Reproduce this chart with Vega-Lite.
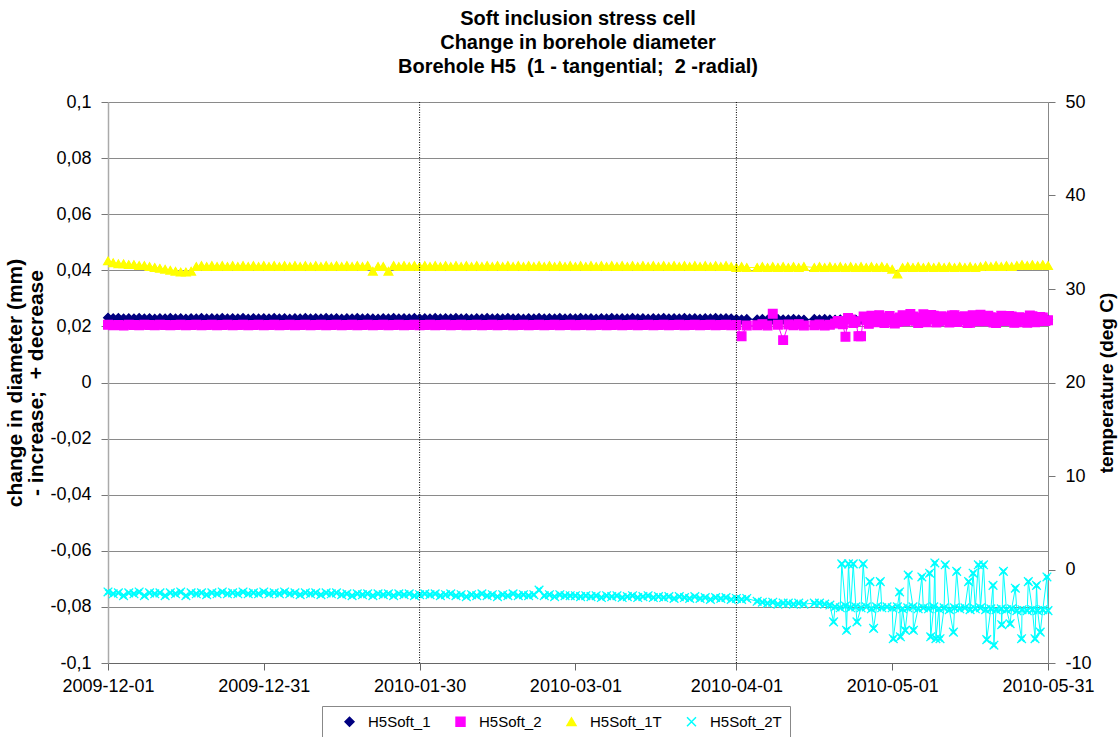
{
"$schema": "https://vega.github.io/schema/vega-lite/v6.json",
"width": 940, "height": 561,
"autosize": {"type": "none"},
"padding": {"left": 108, "top": 102, "right": 70, "bottom": 74},
"background": "white",
"config": {
 "font": "Liberation Sans",
 "view": {"stroke": null},
 "axis": {"labelFont": "Liberation Sans", "labelFontSize": 18, "labelColor": "#000", "titleFont": "Liberation Sans", "titleFontSize": 17, "titleFontWeight": "bold", "titleColor": "#000", "tickColor": "#777", "domainColor": "#888", "tickSize": 7, "grid": false}
},
"title": {"text": ["Soft inclusion stress cell", "Change in borehole diameter", "Borehole H5\u00a0 (1 - tangential;\u00a0 2 -radial)"], "fontSize": 20, "fontWeight": "bold", "font": "Liberation Sans", "anchor": "middle", "frame": "group", "lineHeight": 24, "baseline": "bottom", "offset": -4, "color": "#000"},
"datasets": {
"wide": [
{"d":"2009-12-01","H5Soft_1":0.0231,"H5Soft_2":0.0206,"H5Soft_1T":33.0,"H5Soft_2T":-2.4},
{"d":"2009-12-02","H5Soft_1":0.0229,"H5Soft_2":0.0204,"H5Soft_1T":32.8,"H5Soft_2T":-2.6},
{"d":"2009-12-03","H5Soft_1":0.0230,"H5Soft_2":0.0205,"H5Soft_1T":32.7,"H5Soft_2T":-2.5},
{"d":"2009-12-04","H5Soft_1":0.0228,"H5Soft_2":0.0203,"H5Soft_1T":32.7,"H5Soft_2T":-2.8},
{"d":"2009-12-05","H5Soft_1":0.0229,"H5Soft_2":0.0206,"H5Soft_1T":32.6,"H5Soft_2T":-2.5},
{"d":"2009-12-06","H5Soft_1":0.0228,"H5Soft_2":0.0205,"H5Soft_1T":32.6,"H5Soft_2T":-2.6},
{"d":"2009-12-07","H5Soft_1":0.0230,"H5Soft_2":0.0204,"H5Soft_1T":32.5,"H5Soft_2T":-2.4},
{"d":"2009-12-08","H5Soft_1":0.0228,"H5Soft_2":0.0206,"H5Soft_1T":32.5,"H5Soft_2T":-2.8},
{"d":"2009-12-09","H5Soft_1":0.0229,"H5Soft_2":0.0205,"H5Soft_1T":32.4,"H5Soft_2T":-2.5},
{"d":"2009-12-10","H5Soft_1":0.0227,"H5Soft_2":0.0204,"H5Soft_1T":32.3,"H5Soft_2T":-2.6},
{"d":"2009-12-11","H5Soft_1":0.0229,"H5Soft_2":0.0206,"H5Soft_1T":32.2,"H5Soft_2T":-2.5},
{"d":"2009-12-12","H5Soft_1":0.0228,"H5Soft_2":0.0205,"H5Soft_1T":32.1,"H5Soft_2T":-2.8},
{"d":"2009-12-13","H5Soft_1":0.0230,"H5Soft_2":0.0204,"H5Soft_1T":32.0,"H5Soft_2T":-2.5},
{"d":"2009-12-14","H5Soft_1":0.0228,"H5Soft_2":0.0205,"H5Soft_1T":31.9,"H5Soft_2T":-2.6},
{"d":"2009-12-15","H5Soft_1":0.0229,"H5Soft_2":0.0206,"H5Soft_1T":31.8,"H5Soft_2T":-2.4},
{"d":"2009-12-16","H5Soft_1":0.0227,"H5Soft_2":0.0204,"H5Soft_1T":31.8,"H5Soft_2T":-2.8},
{"d":"2009-12-17","H5Soft_1":0.0229,"H5Soft_2":0.0205,"H5Soft_1T":31.9,"H5Soft_2T":-2.5},
{"d":"2009-12-18","H5Soft_1":0.0228,"H5Soft_2":0.0206,"H5Soft_1T":32.4,"H5Soft_2T":-2.6},
{"d":"2009-12-19","H5Soft_1":0.0230,"H5Soft_2":0.0204,"H5Soft_1T":32.5,"H5Soft_2T":-2.5},
{"d":"2009-12-20","H5Soft_1":0.0228,"H5Soft_2":0.0205,"H5Soft_1T":32.4,"H5Soft_2T":-2.7},
{"d":"2009-12-21","H5Soft_1":0.0229,"H5Soft_2":0.0206,"H5Soft_1T":32.5,"H5Soft_2T":-2.5},
{"d":"2009-12-22","H5Soft_1":0.0228,"H5Soft_2":0.0204,"H5Soft_1T":32.4,"H5Soft_2T":-2.6},
{"d":"2009-12-23","H5Soft_1":0.0230,"H5Soft_2":0.0205,"H5Soft_1T":32.5,"H5Soft_2T":-2.4},
{"d":"2009-12-24","H5Soft_1":0.0228,"H5Soft_2":0.0206,"H5Soft_1T":32.4,"H5Soft_2T":-2.6},
{"d":"2009-12-25","H5Soft_1":0.0229,"H5Soft_2":0.0204,"H5Soft_1T":32.5,"H5Soft_2T":-2.5},
{"d":"2009-12-26","H5Soft_1":0.0228,"H5Soft_2":0.0205,"H5Soft_1T":32.4,"H5Soft_2T":-2.6},
{"d":"2009-12-27","H5Soft_1":0.0230,"H5Soft_2":0.0206,"H5Soft_1T":32.5,"H5Soft_2T":-2.4},
{"d":"2009-12-28","H5Soft_1":0.0227,"H5Soft_2":0.0204,"H5Soft_1T":32.4,"H5Soft_2T":-2.6},
{"d":"2009-12-29","H5Soft_1":0.0229,"H5Soft_2":0.0205,"H5Soft_1T":32.5,"H5Soft_2T":-2.5},
{"d":"2009-12-30","H5Soft_1":0.0228,"H5Soft_2":0.0206,"H5Soft_1T":32.4,"H5Soft_2T":-2.6},
{"d":"2009-12-31","H5Soft_1":0.0229,"H5Soft_2":0.0204,"H5Soft_1T":32.5,"H5Soft_2T":-2.4},
{"d":"2010-01-01","H5Soft_1":0.0228,"H5Soft_2":0.0205,"H5Soft_1T":32.4,"H5Soft_2T":-2.6},
{"d":"2010-01-02","H5Soft_1":0.0230,"H5Soft_2":0.0206,"H5Soft_1T":32.5,"H5Soft_2T":-2.5},
{"d":"2010-01-03","H5Soft_1":0.0228,"H5Soft_2":0.0204,"H5Soft_1T":32.4,"H5Soft_2T":-2.6},
{"d":"2010-01-04","H5Soft_1":0.0229,"H5Soft_2":0.0205,"H5Soft_1T":32.5,"H5Soft_2T":-2.4},
{"d":"2010-01-05","H5Soft_1":0.0227,"H5Soft_2":0.0206,"H5Soft_1T":32.4,"H5Soft_2T":-2.6},
{"d":"2010-01-06","H5Soft_1":0.0229,"H5Soft_2":0.0204,"H5Soft_1T":32.5,"H5Soft_2T":-2.5},
{"d":"2010-01-07","H5Soft_1":0.0228,"H5Soft_2":0.0205,"H5Soft_1T":32.4,"H5Soft_2T":-2.7},
{"d":"2010-01-08","H5Soft_1":0.0230,"H5Soft_2":0.0206,"H5Soft_1T":32.5,"H5Soft_2T":-2.5},
{"d":"2010-01-09","H5Soft_1":0.0228,"H5Soft_2":0.0204,"H5Soft_1T":32.4,"H5Soft_2T":-2.6},
{"d":"2010-01-10","H5Soft_1":0.0229,"H5Soft_2":0.0205,"H5Soft_1T":32.5,"H5Soft_2T":-2.5},
{"d":"2010-01-11","H5Soft_1":0.0228,"H5Soft_2":0.0206,"H5Soft_1T":32.4,"H5Soft_2T":-2.7},
{"d":"2010-01-12","H5Soft_1":0.0230,"H5Soft_2":0.0204,"H5Soft_1T":32.5,"H5Soft_2T":-2.5},
{"d":"2010-01-13","H5Soft_1":0.0228,"H5Soft_2":0.0205,"H5Soft_1T":32.4,"H5Soft_2T":-2.6},
{"d":"2010-01-14","H5Soft_1":0.0229,"H5Soft_2":0.0206,"H5Soft_1T":32.5,"H5Soft_2T":-2.5},
{"d":"2010-01-15","H5Soft_1":0.0227,"H5Soft_2":0.0204,"H5Soft_1T":32.4,"H5Soft_2T":-2.7},
{"d":"2010-01-16","H5Soft_1":0.0229,"H5Soft_2":0.0205,"H5Soft_1T":32.5,"H5Soft_2T":-2.6},
{"d":"2010-01-17","H5Soft_1":0.0228,"H5Soft_2":0.0206,"H5Soft_1T":32.4,"H5Soft_2T":-2.8},
{"d":"2010-01-18","H5Soft_1":0.0230,"H5Soft_2":0.0204,"H5Soft_1T":32.5,"H5Soft_2T":-2.6},
{"d":"2010-01-19","H5Soft_1":0.0228,"H5Soft_2":0.0205,"H5Soft_1T":32.4,"H5Soft_2T":-2.7},
{"d":"2010-01-20","H5Soft_1":0.0229,"H5Soft_2":0.0206,"H5Soft_1T":32.5,"H5Soft_2T":-2.6},
{"d":"2010-01-21","H5Soft_1":0.0228,"H5Soft_2":0.0204,"H5Soft_1T":31.9,"H5Soft_2T":-2.8},
{"d":"2010-01-22","H5Soft_1":0.0227,"H5Soft_2":0.0205,"H5Soft_1T":32.4,"H5Soft_2T":-2.6},
{"d":"2010-01-23","H5Soft_1":0.0229,"H5Soft_2":0.0206,"H5Soft_1T":32.4,"H5Soft_2T":-2.7},
{"d":"2010-01-24","H5Soft_1":0.0228,"H5Soft_2":0.0204,"H5Soft_1T":31.9,"H5Soft_2T":-2.6},
{"d":"2010-01-25","H5Soft_1":0.0230,"H5Soft_2":0.0205,"H5Soft_1T":32.5,"H5Soft_2T":-2.8},
{"d":"2010-01-26","H5Soft_1":0.0228,"H5Soft_2":0.0206,"H5Soft_1T":32.4,"H5Soft_2T":-2.6},
{"d":"2010-01-27","H5Soft_1":0.0229,"H5Soft_2":0.0204,"H5Soft_1T":32.5,"H5Soft_2T":-2.7},
{"d":"2010-01-28","H5Soft_1":0.0228,"H5Soft_2":0.0205,"H5Soft_1T":32.4,"H5Soft_2T":-2.6},
{"d":"2010-01-29","H5Soft_1":0.0230,"H5Soft_2":0.0206,"H5Soft_1T":32.5,"H5Soft_2T":-2.8},
{"d":"2010-01-30","H5Soft_1":0.0228,"H5Soft_2":0.0204,"H5Soft_1T":32.4,"H5Soft_2T":-2.7},
{"d":"2010-01-31","H5Soft_1":0.0229,"H5Soft_2":0.0205,"H5Soft_1T":32.5,"H5Soft_2T":-2.6},
{"d":"2010-02-01","H5Soft_1":0.0228,"H5Soft_2":0.0206,"H5Soft_1T":32.4,"H5Soft_2T":-2.7},
{"d":"2010-02-02","H5Soft_1":0.0230,"H5Soft_2":0.0204,"H5Soft_1T":32.5,"H5Soft_2T":-2.6},
{"d":"2010-02-03","H5Soft_1":0.0228,"H5Soft_2":0.0205,"H5Soft_1T":32.4,"H5Soft_2T":-2.8},
{"d":"2010-02-04","H5Soft_1":0.0229,"H5Soft_2":0.0206,"H5Soft_1T":32.5,"H5Soft_2T":-2.7},
{"d":"2010-02-05","H5Soft_1":0.0228,"H5Soft_2":0.0204,"H5Soft_1T":32.4,"H5Soft_2T":-2.6},
{"d":"2010-02-06","H5Soft_1":0.0230,"H5Soft_2":0.0205,"H5Soft_1T":32.5,"H5Soft_2T":-2.8},
{"d":"2010-02-07","H5Soft_1":0.0228,"H5Soft_2":0.0206,"H5Soft_1T":32.4,"H5Soft_2T":-2.7},
{"d":"2010-02-08","H5Soft_1":0.0229,"H5Soft_2":0.0204,"H5Soft_1T":32.5,"H5Soft_2T":-2.9},
{"d":"2010-02-09","H5Soft_1":0.0227,"H5Soft_2":0.0205,"H5Soft_1T":32.4,"H5Soft_2T":-2.7},
{"d":"2010-02-10","H5Soft_1":0.0229,"H5Soft_2":0.0206,"H5Soft_1T":32.5,"H5Soft_2T":-2.8},
{"d":"2010-02-11","H5Soft_1":0.0228,"H5Soft_2":0.0204,"H5Soft_1T":32.4,"H5Soft_2T":-2.6},
{"d":"2010-02-12","H5Soft_1":0.0230,"H5Soft_2":0.0205,"H5Soft_1T":32.5,"H5Soft_2T":-2.8},
{"d":"2010-02-13","H5Soft_1":0.0228,"H5Soft_2":0.0206,"H5Soft_1T":32.4,"H5Soft_2T":-2.7},
{"d":"2010-02-14","H5Soft_1":0.0229,"H5Soft_2":0.0204,"H5Soft_1T":32.5,"H5Soft_2T":-2.9},
{"d":"2010-02-15","H5Soft_1":0.0228,"H5Soft_2":0.0205,"H5Soft_1T":32.4,"H5Soft_2T":-2.7},
{"d":"2010-02-16","H5Soft_1":0.0230,"H5Soft_2":0.0206,"H5Soft_1T":32.5,"H5Soft_2T":-2.8},
{"d":"2010-02-17","H5Soft_1":0.0228,"H5Soft_2":0.0204,"H5Soft_1T":32.4,"H5Soft_2T":-2.6},
{"d":"2010-02-18","H5Soft_1":0.0229,"H5Soft_2":0.0205,"H5Soft_1T":32.5,"H5Soft_2T":-2.8},
{"d":"2010-02-19","H5Soft_1":0.0227,"H5Soft_2":0.0206,"H5Soft_1T":32.4,"H5Soft_2T":-2.7},
{"d":"2010-02-20","H5Soft_1":0.0229,"H5Soft_2":0.0204,"H5Soft_1T":32.5,"H5Soft_2T":-2.8},
{"d":"2010-02-21","H5Soft_1":0.0228,"H5Soft_2":0.0205,"H5Soft_1T":32.4,"H5Soft_2T":-2.7},
{"d":"2010-02-22","H5Soft_1":0.0230,"H5Soft_2":0.0206,"H5Soft_1T":32.5,"H5Soft_2T":-2.2},
{"d":"2010-02-23","H5Soft_1":0.0228,"H5Soft_2":0.0204,"H5Soft_1T":32.4,"H5Soft_2T":-2.8},
{"d":"2010-02-24","H5Soft_1":0.0229,"H5Soft_2":0.0205,"H5Soft_1T":32.5,"H5Soft_2T":-2.7},
{"d":"2010-02-25","H5Soft_1":0.0228,"H5Soft_2":0.0206,"H5Soft_1T":32.4,"H5Soft_2T":-2.9},
{"d":"2010-02-26","H5Soft_1":0.0230,"H5Soft_2":0.0204,"H5Soft_1T":32.5,"H5Soft_2T":-2.7},
{"d":"2010-02-27","H5Soft_1":0.0228,"H5Soft_2":0.0205,"H5Soft_1T":32.4,"H5Soft_2T":-2.8},
{"d":"2010-02-28","H5Soft_1":0.0229,"H5Soft_2":0.0206,"H5Soft_1T":32.5,"H5Soft_2T":-2.8},
{"d":"2010-03-01","H5Soft_1":0.0228,"H5Soft_2":0.0204,"H5Soft_1T":32.4,"H5Soft_2T":-2.8},
{"d":"2010-03-02","H5Soft_1":0.0230,"H5Soft_2":0.0205,"H5Soft_1T":32.5,"H5Soft_2T":-2.9},
{"d":"2010-03-03","H5Soft_1":0.0228,"H5Soft_2":0.0206,"H5Soft_1T":32.4,"H5Soft_2T":-2.8},
{"d":"2010-03-04","H5Soft_1":0.0229,"H5Soft_2":0.0204,"H5Soft_1T":32.5,"H5Soft_2T":-2.9},
{"d":"2010-03-05","H5Soft_1":0.0227,"H5Soft_2":0.0205,"H5Soft_1T":32.4,"H5Soft_2T":-2.8},
{"d":"2010-03-06","H5Soft_1":0.0229,"H5Soft_2":0.0206,"H5Soft_1T":32.5,"H5Soft_2T":-3.0},
{"d":"2010-03-07","H5Soft_1":0.0228,"H5Soft_2":0.0204,"H5Soft_1T":32.4,"H5Soft_2T":-2.8},
{"d":"2010-03-08","H5Soft_1":0.0230,"H5Soft_2":0.0205,"H5Soft_1T":32.5,"H5Soft_2T":-2.9},
{"d":"2010-03-09","H5Soft_1":0.0228,"H5Soft_2":0.0206,"H5Soft_1T":32.4,"H5Soft_2T":-2.8},
{"d":"2010-03-10","H5Soft_1":0.0229,"H5Soft_2":0.0204,"H5Soft_1T":32.5,"H5Soft_2T":-3.0},
{"d":"2010-03-11","H5Soft_1":0.0228,"H5Soft_2":0.0205,"H5Soft_1T":32.4,"H5Soft_2T":-2.9},
{"d":"2010-03-12","H5Soft_1":0.0230,"H5Soft_2":0.0206,"H5Soft_1T":32.5,"H5Soft_2T":-2.8},
{"d":"2010-03-13","H5Soft_1":0.0228,"H5Soft_2":0.0204,"H5Soft_1T":32.4,"H5Soft_2T":-3.0},
{"d":"2010-03-14","H5Soft_1":0.0229,"H5Soft_2":0.0205,"H5Soft_1T":32.5,"H5Soft_2T":-2.9},
{"d":"2010-03-15","H5Soft_1":0.0227,"H5Soft_2":0.0206,"H5Soft_1T":32.4,"H5Soft_2T":-2.8},
{"d":"2010-03-16","H5Soft_1":0.0229,"H5Soft_2":0.0204,"H5Soft_1T":32.5,"H5Soft_2T":-3.0},
{"d":"2010-03-17","H5Soft_1":0.0228,"H5Soft_2":0.0205,"H5Soft_1T":32.4,"H5Soft_2T":-2.9},
{"d":"2010-03-18","H5Soft_1":0.0230,"H5Soft_2":0.0206,"H5Soft_1T":32.5,"H5Soft_2T":-3.0},
{"d":"2010-03-19","H5Soft_1":0.0228,"H5Soft_2":0.0204,"H5Soft_1T":32.4,"H5Soft_2T":-2.9},
{"d":"2010-03-20","H5Soft_1":0.0229,"H5Soft_2":0.0205,"H5Soft_1T":32.5,"H5Soft_2T":-3.1},
{"d":"2010-03-21","H5Soft_1":0.0228,"H5Soft_2":0.0206,"H5Soft_1T":32.4,"H5Soft_2T":-2.9},
{"d":"2010-03-22","H5Soft_1":0.0230,"H5Soft_2":0.0204,"H5Soft_1T":32.5,"H5Soft_2T":-3.0},
{"d":"2010-03-23","H5Soft_1":0.0228,"H5Soft_2":0.0205,"H5Soft_1T":32.4,"H5Soft_2T":-3.1},
{"d":"2010-03-24","H5Soft_1":0.0229,"H5Soft_2":0.0206,"H5Soft_1T":32.5,"H5Soft_2T":-2.9},
{"d":"2010-03-25","H5Soft_1":0.0227,"H5Soft_2":0.0204,"H5Soft_1T":32.4,"H5Soft_2T":-3.1},
{"d":"2010-03-26","H5Soft_1":0.0229,"H5Soft_2":0.0205,"H5Soft_1T":32.5,"H5Soft_2T":-3.0},
{"d":"2010-03-27","H5Soft_1":0.0228,"H5Soft_2":0.0206,"H5Soft_1T":32.4,"H5Soft_2T":-3.2},
{"d":"2010-03-28","H5Soft_1":0.0230,"H5Soft_2":0.0204,"H5Soft_1T":32.5,"H5Soft_2T":-3.0},
{"d":"2010-03-29","H5Soft_1":0.0228,"H5Soft_2":0.0205,"H5Soft_1T":32.4,"H5Soft_2T":-3.1},
{"d":"2010-03-30","H5Soft_1":0.0229,"H5Soft_2":0.0206,"H5Soft_1T":32.5,"H5Soft_2T":-3.0},
{"d":"2010-03-31","H5Soft_1":0.0228,"H5Soft_2":0.0204,"H5Soft_1T":32.4,"H5Soft_2T":-3.2},
{"d":"2010-04-01","H5Soft_1":0.0226,"H5Soft_2":0.0205,"H5Soft_1T":32.3,"H5Soft_2T":-3.1},
{"d":"2010-04-02","H5Soft_1":0.0225,"H5Soft_2":0.0165,"H5Soft_1T":32.4,"H5Soft_2T":-3.2},
{"d":"2010-04-03","H5Soft_1":0.0226,"H5Soft_2":0.0203,"H5Soft_1T":32.3,"H5Soft_2T":-3.1},
{"d":"2010-04-05","H5Soft_1":0.0225,"H5Soft_2":0.0204,"H5Soft_1T":32.3,"H5Soft_2T":-3.4},
{"d":"2010-04-06","H5Soft_1":0.0226,"H5Soft_2":0.0208,"H5Soft_1T":32.4,"H5Soft_2T":-3.5},
{"d":"2010-04-07","H5Soft_1":0.0224,"H5Soft_2":0.0203,"H5Soft_1T":32.3,"H5Soft_2T":-3.6},
{"d":"2010-04-08","H5Soft_1":0.0225,"H5Soft_2":0.0245,"H5Soft_1T":32.4,"H5Soft_2T":-3.5},
{"d":"2010-04-09","H5Soft_1":0.0226,"H5Soft_2":0.0206,"H5Soft_1T":32.3,"H5Soft_2T":-3.7},
{"d":"2010-04-10","H5Soft_1":0.0225,"H5Soft_2":0.0151,"H5Soft_1T":32.4,"H5Soft_2T":-3.6},
{"d":"2010-04-11","H5Soft_1":0.0225,"H5Soft_2":0.0207,"H5Soft_1T":32.3,"H5Soft_2T":-3.6},
{"d":"2010-04-12","H5Soft_1":0.0226,"H5Soft_2":0.0204,"H5Soft_1T":32.4,"H5Soft_2T":-3.7},
{"d":"2010-04-13","H5Soft_1":0.0225,"H5Soft_2":0.0208,"H5Soft_1T":32.3,"H5Soft_2T":-3.6},
{"d":"2010-04-14","H5Soft_1":0.0224,"H5Soft_2":0.0203,"H5Soft_1T":32.4,"H5Soft_2T":-3.7},
{"d":"2010-04-16","H5Soft_1":0.0226,"H5Soft_2":0.0204,"H5Soft_1T":32.3,"H5Soft_2T":-3.6},
{"d":"2010-04-17","H5Soft_1":0.0225,"H5Soft_2":0.0207,"H5Soft_1T":32.4,"H5Soft_2T":-3.6},
{"d":"2010-04-18","H5Soft_1":0.0226,"H5Soft_2":0.0203,"H5Soft_1T":32.3,"H5Soft_2T":-3.7},
{"d":"2010-04-19","H5Soft_1":0.0225,"H5Soft_2":0.0206,"H5Soft_1T":32.4,"H5Soft_2T":-3.8},
{"d":"2010-04-20","H5Soft_1":0.0224,"H5Soft_2":0.0210,"H5Soft_1T":32.3,"H5Soft_2T":-4.0},
{"d":"2010-04-21","H5Soft_1":0.0225,"H5Soft_2":0.0217,"H5Soft_1T":32.4,"H5Soft_2T":-4.1},
{"d":"2010-04-22","H5Soft_1":0.0224,"H5Soft_2":0.0163,"H5Soft_1T":32.3,"H5Soft_2T":-3.9},
{"d":"2010-04-23","H5Soft_1":0.0225,"H5Soft_2":0.0225,"H5Soft_1T":32.4,"H5Soft_2T":-4.1},
{"d":"2010-04-24","H5Soft_1":0.0224,"H5Soft_2":0.0218,"H5Soft_1T":32.3,"H5Soft_2T":-4.0},
{"d":"2010-04-25","H5Soft_1":0.0225,"H5Soft_2":0.0165,"H5Soft_1T":32.4,"H5Soft_2T":-4.1},
{"d":"2010-04-26","H5Soft_1":0.0224,"H5Soft_2":0.0222,"H5Soft_1T":32.3,"H5Soft_2T":-4.0},
{"d":"2010-04-27","H5Soft_1":0.0225,"H5Soft_2":0.0238,"H5Soft_1T":32.4,"H5Soft_2T":-4.2},
{"d":"2010-04-28","H5Soft_1":0.0224,"H5Soft_2":0.0215,"H5Soft_1T":32.3,"H5Soft_2T":-4.0},
{"d":"2010-04-29","H5Soft_1":0.0225,"H5Soft_2":0.0232,"H5Soft_1T":32.4,"H5Soft_2T":-4.1},
{"d":"2010-04-30","H5Soft_1":0.0224,"H5Soft_2":0.0220,"H5Soft_1T":32.3,"H5Soft_2T":-4.0},
{"d":"2010-05-01","H5Soft_1":0.0224,"H5Soft_2":0.0228,"H5Soft_1T":32.1,"H5Soft_2T":-4.1},
{"d":"2010-05-02","H5Soft_1":0.0225,"H5Soft_2":0.0216,"H5Soft_1T":31.6,"H5Soft_2T":-4.0},
{"d":"2010-05-03","H5Soft_1":0.0224,"H5Soft_2":0.0240,"H5Soft_1T":32.3,"H5Soft_2T":-4.2},
{"d":"2010-05-04","H5Soft_1":0.0225,"H5Soft_2":0.0222,"H5Soft_1T":32.4,"H5Soft_2T":-4.1},
{"d":"2010-05-05","H5Soft_1":0.0224,"H5Soft_2":0.0235,"H5Soft_1T":32.3,"H5Soft_2T":-4.0},
{"d":"2010-05-06","H5Soft_1":0.0225,"H5Soft_2":0.0212,"H5Soft_1T":32.4,"H5Soft_2T":-4.2},
{"d":"2010-05-07","H5Soft_1":0.0224,"H5Soft_2":0.0243,"H5Soft_1T":32.3,"H5Soft_2T":-4.1},
{"d":"2010-05-08","H5Soft_1":0.0225,"H5Soft_2":0.0225,"H5Soft_1T":32.4,"H5Soft_2T":-4.2},
{"d":"2010-05-09","H5Soft_1":0.0224,"H5Soft_2":0.0238,"H5Soft_1T":32.3,"H5Soft_2T":-4.0},
{"d":"2010-05-10","H5Soft_1":0.0225,"H5Soft_2":0.0218,"H5Soft_1T":32.4,"H5Soft_2T":-4.2},
{"d":"2010-05-11","H5Soft_1":0.0224,"H5Soft_2":0.0233,"H5Soft_1T":32.3,"H5Soft_2T":-4.1},
{"d":"2010-05-12","H5Soft_1":0.0225,"H5Soft_2":0.0214,"H5Soft_1T":32.4,"H5Soft_2T":-4.3},
{"d":"2010-05-13","H5Soft_1":0.0224,"H5Soft_2":0.0240,"H5Soft_1T":32.3,"H5Soft_2T":-4.1},
{"d":"2010-05-14","H5Soft_1":0.0225,"H5Soft_2":0.0222,"H5Soft_1T":32.4,"H5Soft_2T":-4.2},
{"d":"2010-05-15","H5Soft_1":0.0224,"H5Soft_2":0.0236,"H5Soft_1T":32.3,"H5Soft_2T":-4.1},
{"d":"2010-05-16","H5Soft_1":0.0225,"H5Soft_2":0.0213,"H5Soft_1T":32.4,"H5Soft_2T":-4.3},
{"d":"2010-05-17","H5Soft_1":0.0224,"H5Soft_2":0.0230,"H5Soft_1T":32.3,"H5Soft_2T":-4.2},
{"d":"2010-05-18","H5Soft_1":0.0225,"H5Soft_2":0.0242,"H5Soft_1T":32.4,"H5Soft_2T":-4.1},
{"d":"2010-05-19","H5Soft_1":0.0224,"H5Soft_2":0.0218,"H5Soft_1T":32.5,"H5Soft_2T":-4.3},
{"d":"2010-05-20","H5Soft_1":0.0225,"H5Soft_2":0.0233,"H5Soft_1T":32.4,"H5Soft_2T":-4.2},
{"d":"2010-05-21","H5Soft_1":0.0224,"H5Soft_2":0.0212,"H5Soft_1T":32.5,"H5Soft_2T":-4.3},
{"d":"2010-05-22","H5Soft_1":0.0225,"H5Soft_2":0.0238,"H5Soft_1T":32.4,"H5Soft_2T":-4.2},
{"d":"2010-05-23","H5Soft_1":0.0224,"H5Soft_2":0.0220,"H5Soft_1T":32.5,"H5Soft_2T":-4.3},
{"d":"2010-05-24","H5Soft_1":0.0225,"H5Soft_2":0.0235,"H5Soft_1T":32.4,"H5Soft_2T":-4.2},
{"d":"2010-05-25","H5Soft_1":0.0224,"H5Soft_2":0.0215,"H5Soft_1T":32.5,"H5Soft_2T":-4.4},
{"d":"2010-05-26","H5Soft_1":0.0225,"H5Soft_2":0.0230,"H5Soft_1T":32.6,"H5Soft_2T":-4.3},
{"d":"2010-05-27","H5Soft_1":0.0224,"H5Soft_2":0.0213,"H5Soft_1T":32.5,"H5Soft_2T":-4.4},
{"d":"2010-05-28","H5Soft_1":0.0225,"H5Soft_2":0.0236,"H5Soft_1T":32.6,"H5Soft_2T":-4.3},
{"d":"2010-05-29","H5Soft_1":0.0224,"H5Soft_2":0.0218,"H5Soft_1T":32.5,"H5Soft_2T":-4.4},
{"d":"2010-05-30","H5Soft_1":0.0225,"H5Soft_2":0.0232,"H5Soft_1T":32.6,"H5Soft_2T":-4.3},
{"d":"2010-05-31","H5Soft_1":0.0224,"H5Soft_2":0.0222,"H5Soft_1T":32.5,"H5Soft_2T":-4.4},
{"d":"2010-04-20T12:00:00Z","H5Soft_2":0.0219},
{"d":"2010-04-21T12:00:00Z","H5Soft_2":0.0208},
{"d":"2010-04-22T12:00:00Z","H5Soft_2":0.0230},
{"d":"2010-04-23T12:00:00Z","H5Soft_2":0.0212},
{"d":"2010-04-24T12:00:00Z","H5Soft_2":0.0165},
{"d":"2010-04-25T12:00:00Z","H5Soft_2":0.0235},
{"d":"2010-04-26T12:00:00Z","H5Soft_2":0.0209},
{"d":"2010-04-27T12:00:00Z","H5Soft_2":0.0222},
{"d":"2010-04-28T12:00:00Z","H5Soft_2":0.0240},
{"d":"2010-04-29T12:00:00Z","H5Soft_2":0.0212},
{"d":"2010-04-30T12:00:00Z","H5Soft_2":0.0237},
{"d":"2010-05-01T12:00:00Z","H5Soft_2":0.0210},
{"d":"2010-05-02T12:00:00Z","H5Soft_2":0.0232},
{"d":"2010-05-03T12:00:00Z","H5Soft_2":0.0218},
{"d":"2010-05-04T12:00:00Z","H5Soft_2":0.0244},
{"d":"2010-05-05T12:00:00Z","H5Soft_2":0.0220},
{"d":"2010-05-06T12:00:00Z","H5Soft_2":0.0232},
{"d":"2010-05-07T12:00:00Z","H5Soft_2":0.0215},
{"d":"2010-05-08T12:00:00Z","H5Soft_2":0.0241},
{"d":"2010-05-09T12:00:00Z","H5Soft_2":0.0214},
{"d":"2010-05-10T12:00:00Z","H5Soft_2":0.0236},
{"d":"2010-05-11T12:00:00Z","H5Soft_2":0.0222},
{"d":"2010-05-12T12:00:00Z","H5Soft_2":0.0239},
{"d":"2010-05-13T12:00:00Z","H5Soft_2":0.0216},
{"d":"2010-05-14T12:00:00Z","H5Soft_2":0.0234},
{"d":"2010-05-15T12:00:00Z","H5Soft_2":0.0212},
{"d":"2010-05-16T12:00:00Z","H5Soft_2":0.0240},
{"d":"2010-05-17T12:00:00Z","H5Soft_2":0.0218},
{"d":"2010-05-18T12:00:00Z","H5Soft_2":0.0226},
{"d":"2010-05-19T12:00:00Z","H5Soft_2":0.0238},
{"d":"2010-05-20T12:00:00Z","H5Soft_2":0.0214},
{"d":"2010-05-21T12:00:00Z","H5Soft_2":0.0230},
{"d":"2010-05-22T12:00:00Z","H5Soft_2":0.0219},
{"d":"2010-05-23T12:00:00Z","H5Soft_2":0.0237},
{"d":"2010-05-24T12:00:00Z","H5Soft_2":0.0213},
{"d":"2010-05-25T12:00:00Z","H5Soft_2":0.0233},
{"d":"2010-05-26T12:00:00Z","H5Soft_2":0.0220},
{"d":"2010-05-27T12:00:00Z","H5Soft_2":0.0239},
{"d":"2010-05-28T12:00:00Z","H5Soft_2":0.0215},
{"d":"2010-05-29T12:00:00Z","H5Soft_2":0.0234},
{"d":"2010-05-30T12:00:00Z","H5Soft_2":0.0219},
{"d":"2010-04-19T17:00:00Z","H5Soft_2T":-5.6},
{"d":"2010-04-21T07:00:00Z","H5Soft_2T":0.6},
{"d":"2010-04-22T05:00:00Z","H5Soft_2T":-6.5},
{"d":"2010-04-22T14:00:00Z","H5Soft_2T":0.6},
{"d":"2010-04-23T12:00:00Z","H5Soft_2T":0.6},
{"d":"2010-04-24T05:00:00Z","H5Soft_2T":-5.6},
{"d":"2010-04-25T10:00:00Z","H5Soft_2T":0.6},
{"d":"2010-04-26T17:00:00Z","H5Soft_2T":-1.3},
{"d":"2010-04-27T10:00:00Z","H5Soft_2T":-6.3},
{"d":"2010-04-28T17:00:00Z","H5Soft_2T":-1.3},
{"d":"2010-05-01T05:00:00Z","H5Soft_2T":-7.4},
{"d":"2010-05-02T10:00:00Z","H5Soft_2T":-2.4},
{"d":"2010-05-02T14:00:00Z","H5Soft_2T":-7.2},
{"d":"2010-05-03T12:00:00Z","H5Soft_2T":-6.5},
{"d":"2010-05-04T02:00:00Z","H5Soft_2T":-0.6},
{"d":"2010-05-05T02:00:00Z","H5Soft_2T":-6.5},
{"d":"2010-05-06T17:00:00Z","H5Soft_2T":-0.8},
{"d":"2010-05-08T05:00:00Z","H5Soft_2T":-0.4},
{"d":"2010-05-08T10:00:00Z","H5Soft_2T":-7.2},
{"d":"2010-05-09T05:00:00Z","H5Soft_2T":0.7},
{"d":"2010-05-09T10:00:00Z","H5Soft_2T":-7.4},
{"d":"2010-05-10T05:00:00Z","H5Soft_2T":-7.4},
{"d":"2010-05-11T05:00:00Z","H5Soft_2T":0.5},
{"d":"2010-05-12T19:00:00Z","H5Soft_2T":-6.7},
{"d":"2010-05-13T10:00:00Z","H5Soft_2T":-0.2},
{"d":"2010-05-15T17:00:00Z","H5Soft_2T":-1.3},
{"d":"2010-05-16T14:00:00Z","H5Soft_2T":-0.4},
{"d":"2010-05-17T14:00:00Z","H5Soft_2T":0.5},
{"d":"2010-05-18T14:00:00Z","H5Soft_2T":0.5},
{"d":"2010-05-19T05:00:00Z","H5Soft_2T":-7.5},
{"d":"2010-05-20T10:00:00Z","H5Soft_2T":-1.7},
{"d":"2010-05-20T14:00:00Z","H5Soft_2T":-8.1},
{"d":"2010-05-22T02:00:00Z","H5Soft_2T":-5.9},
{"d":"2010-05-22T10:00:00Z","H5Soft_2T":-0.2},
{"d":"2010-05-23T17:00:00Z","H5Soft_2T":-5.8},
{"d":"2010-05-24T17:00:00Z","H5Soft_2T":-2.0},
{"d":"2010-05-25T22:00:00Z","H5Soft_2T":-7.4},
{"d":"2010-05-27T05:00:00Z","H5Soft_2T":-1.3},
{"d":"2010-05-28T12:00:00Z","H5Soft_2T":-7.4},
{"d":"2010-05-28T19:00:00Z","H5Soft_2T":-1.7},
{"d":"2010-05-29T12:00:00Z","H5Soft_2T":-6.7},
{"d":"2010-05-30T19:00:00Z","H5Soft_2T":-0.8}
],
"markers": [{"d": "2010-01-30"}, {"d": "2010-04-01"}]
},
"encoding": {
 "x": {"field": "d", "type": "temporal",
  "scale": {"type": "utc", "domain": [{"year": 2009, "month": 12, "date": 1, "utc": true}, {"year": 2010, "month": 5, "date": 31, "utc": true}]},
  "axis": {"title": null, "orient": "bottom", "labelExpr": "utcFormat(datum.value, '%Y-%m-%d')",
   "values": [{"year": 2009, "month": 12, "date": 1, "utc": true}, {"year": 2009, "month": 12, "date": 31, "utc": true}, {"year": 2010, "month": 1, "date": 30, "utc": true}, {"year": 2010, "month": 3, "date": 1, "utc": true}, {"year": 2010, "month": 4, "date": 1, "utc": true}, {"year": 2010, "month": 5, "date": 1, "utc": true}, {"year": 2010, "month": 5, "date": 31, "utc": true}],
   "labelPadding": 7, "labelFlush": false, "labelOverlap": false, "domainColor": "#666", "tickColor": "#666", "grid": false}
 }
},
"layer": [
 {
  "data": {"name": "wide"},
  "transform": [{"fold": ["H5Soft_1", "H5Soft_2"], "as": ["series", "value"]}, {"filter": "isValid(datum.value)"}],
  "encoding": {
   "y": {"field": "value", "type": "quantitative",
    "scale": {"domain": [-0.1, 0.1], "nice": false, "zero": false},
    "axis": {"orient": "left", "values": [-0.1, -0.08, -0.06, -0.04, -0.02, 0, 0.02, 0.04, 0.06, 0.08, 0.1],
     "labelExpr": "replace(toString(round(datum.value*100)/100), '.', ',')",
     "title": ["change in diameter (mm)", "- increase;\u00a0 + decrease"], "titleFontSize": 21, "titleLineHeight": 21, "titlePadding": 3,
     "labelPadding": 10, "grid": true, "gridColor": "#8a8a8a", "gridWidth": 1, "domainColor": "#aaa", "domainWidth": 1.5}},
   "color": {"field": "series", "type": "nominal",
    "scale": {"domain": ["H5Soft_1", "H5Soft_2", "H5Soft_1T", "H5Soft_2T"], "range": ["#000080", "#ff00ff", "#ffff00", "#00ffff"]},
    "legend": {"title": null, "orient": "none", "legendX": 214, "legendY": 604, "direction": "horizontal",
     "labelFontSize": 15, "labelFont": "Liberation Sans", "labelColor": "#000", "symbolSize": 80, "symbolStrokeWidth": 1.5,
     "symbolOffset": 12, "labelOffset": 11, "columnPadding": 10, "padding": 8, "strokeColor": "#888"}},
   "shape": {"field": "series", "type": "nominal",
    "scale": {"domain": ["H5Soft_1", "H5Soft_2", "H5Soft_1T", "H5Soft_2T"], "range": ["diamond", "square", "triangle-up", "M-1,-1L1,1M1,-1L-1,1"]}},
   "stroke": {"field": "series", "type": "nominal",
    "scale": {"domain": ["H5Soft_1", "H5Soft_2", "H5Soft_1T", "H5Soft_2T"], "range": ["#000080", "#ff00ff", "#ffff00", "#00ffff"]}}
  },
  "layer": [
   {"mark": {"type": "line", "strokeWidth": 1}},
   {"mark": {"type": "point", "filled": true, "size": 75, "strokeWidth": 1.3, "opacity": 1},
    "encoding": {"order": {"field": "series", "type": "ordinal"}}}
  ]
 },
 {
  "data": {"name": "wide"},
  "transform": [{"fold": ["H5Soft_1T", "H5Soft_2T"], "as": ["series", "value"]}, {"filter": "isValid(datum.value)"}],
  "encoding": {
   "y": {"field": "value", "type": "quantitative",
    "scale": {"domain": [-10, 50], "nice": false, "zero": false},
    "axis": {"orient": "right", "values": [-10, 0, 10, 20, 30, 40, 50], "labelExpr": "toString(datum.value)",
     "title": "temperature (deg C)", "titleFontSize": 19, "titleAngle": -90, "titleBaseline": "top", "titlePadding": 6,
     "labelPadding": 10, "grid": false, "domainColor": "#888"}},
   "color": {"field": "series", "type": "nominal"},
   "shape": {"field": "series", "type": "nominal"},
   "stroke": {"field": "series", "type": "nominal"}
  },
  "layer": [
   {"mark": {"type": "line", "strokeWidth": 1}},
   {"mark": {"type": "point", "filled": true, "size": 75, "strokeWidth": 1.3, "opacity": 1}}
  ]
 },
 {
  "data": {"name": "markers"},
  "mark": {"type": "rule", "color": "#000", "strokeWidth": 1, "strokeDash": [1, 1.5]},
  "encoding": {}
 }
],
"resolve": {"scale": {"y": "independent"}}
}
